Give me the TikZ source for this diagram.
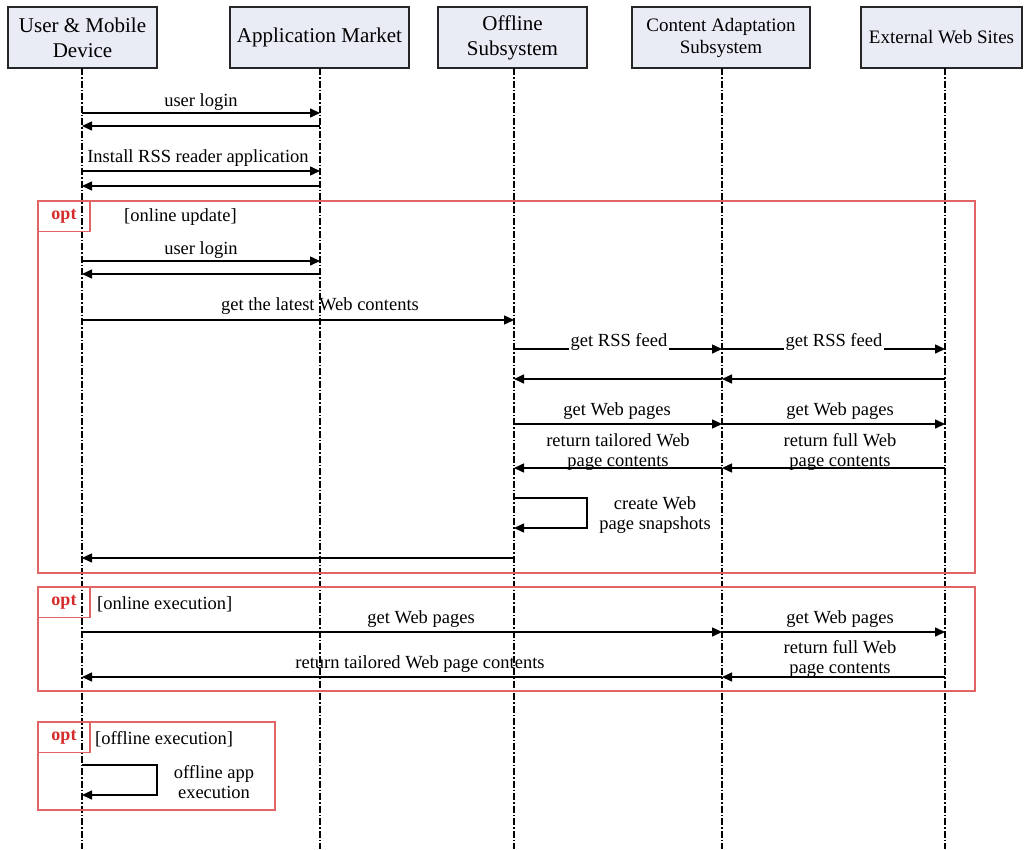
\documentclass[tikz,border=0pt]{standalone}
\usepackage{fontspec}
\setmainfont{Liberation Serif}
\usetikzlibrary{arrows.meta}
\definecolor{headfill}{HTML}{E9EBF5}
\definecolor{optred}{HTML}{D42A2A}
\definecolor{optframe}{HTML}{E26464}

\begin{document}
\begin{tikzpicture}[x=1pt,y=-1pt,
  head/.style={draw=black!85,line width=1.4pt,fill=headfill,align=center,inner sep=0pt,
               minimum height=61pt},
  bighead/.style={head,font=\fontsize{21}{25}\selectfont},
  smallhead/.style={head,font=\fontsize{19}{22}\selectfont},
  lifeline/.style={line width=1.1pt,dash pattern=on 7pt off 2pt on 1.5pt off 2pt},
  msg/.style={line width=1.5pt,-{Triangle[length=10pt,width=9pt]}},
  lbl/.style={font=\fontsize{18.5}{20}\selectfont,align=center,inner sep=1pt,yshift=-2pt},
  onlbl/.style={lbl,fill=white,inner sep=2pt},
  frame/.style={draw=optframe,line width=1.1pt},
  opttag/.style={draw=optframe,line width=1.1pt,minimum width=52pt,minimum height=31pt,
                 inner sep=0pt,text=optred,font=\fontsize{18}{20}\selectfont\bfseries},
  guard/.style={lbl,anchor=west},
]
\useasboundingbox (0,0) rectangle (1025,849);

% participants
\node[bighead,minimum width=149pt] (h1) at (82.5,37.5) {User \& Mobile\\Device};
\node[bighead,minimum width=179pt] (h2) at (319.5,37.5) {Application Market};
\node[bighead,minimum width=149pt] (h3) at (512.5,37.5) {Offline\\Subsystem};
\node[smallhead,minimum width=178pt] (h4) at (721,37.5) {Content Adaptation\\Subsystem};
\node[smallhead,minimum width=161pt] (h5) at (941.5,37.5) {External Web Sites};

% lifelines
\coordinate (L1) at (82,68);
\coordinate (L2) at (320,68);
\coordinate (L3) at (514,68);
\coordinate (L4) at (722,68);
\coordinate (L5) at (945,68);
\foreach \l in {L1,L2,L3,L4,L5}
  \draw[lifeline] (\l) -- (\l|-0,849);

% login and installation
\draw[msg] (L1|-0,113) -- (L2|-0,113);
\node[lbl] (m1) at (201,100) {user login};
\draw[msg] (L2|-0,126) -- (L1|-0,126);
\draw[msg] (L1|-0,171) -- (L2|-0,171);
\node[lbl] (m2) at (198,156) {Install RSS reader application};
\draw[msg] (L2|-0,186) -- (L1|-0,186);

% opt: online update
\draw[frame] (38,201) rectangle (975,573);
\node[opttag] (t1) at (64,216) {opt};
\node[guard] (g1) at (123,215) {[online update]};
\draw[msg] (L1|-0,261) -- (L2|-0,261);
\node[lbl] (m3) at (201,248) {user login};
\draw[msg] (L2|-0,274) -- (L1|-0,274);
\draw[msg] (L1|-0,320) -- (L3|-0,320);
\node[lbl] (m4) at (320,304) {get the latest Web contents};

\draw[msg] (L3|-0,349) -- (L4|-0,349);
\node[onlbl] (m5) at (619,340) {get RSS feed};
\draw[msg] (L4|-0,349) -- (L5|-0,349);
\node[onlbl] (m6) at (834,340) {get RSS feed};
\draw[msg] (L5|-0,379) -- (L4|-0,379);
\draw[msg] (L4|-0,379) -- (L3|-0,379);

\draw[msg] (L3|-0,424) -- (L4|-0,424);
\node[lbl] (m7) at (617,409) {get Web pages};
\draw[msg] (L4|-0,424) -- (L5|-0,424);
\node[lbl] (m8) at (840,409) {get Web pages};
\draw[msg] (L4|-0,468) -- (L3|-0,468);
\node[lbl] (m9) at (618,450) {return tailored Web\\page contents};
\draw[msg] (L5|-0,468) -- (L4|-0,468);
\node[lbl] (m10) at (840,450) {return full Web\\page contents};

\draw[msg] (L3|-0,498) -- (587,498) -- (587,528) -- (L3|-0,528);
\node[lbl] (m11) at (655,513) {create Web\\page snapshots};
\draw[msg] (L3|-0,558) -- (L1|-0,558);

% opt: online execution
\draw[frame] (38,587) rectangle (975,691);
\node[opttag] (t2) at (64,602) {opt};
\node[guard] (g2) at (96,602) {[online execution]};
\draw[msg] (L1|-0,632) -- (L4|-0,632);
\node[lbl] (m12) at (421,617) {get Web pages};
\draw[msg] (L4|-0,632) -- (L5|-0,632);
\node[lbl] (m13) at (840,617) {get Web pages};
\draw[msg] (L5|-0,677) -- (L4|-0,677);
\node[lbl] (m14) at (840,657) {return full Web\\page contents};
\draw[msg] (L4|-0,677) -- (L1|-0,677);
\node[lbl] (m15) at (420,662) {return tailored Web page contents};

% opt: offline execution
\draw[frame] (38,722) rectangle (275,810);
\node[opttag] (t3) at (64,737) {opt};
\node[guard] (g3) at (94,737) {[offline execution]};
\draw[msg] (L1|-0,765) -- (157,765) -- (157,795) -- (L1|-0,795);
\node[lbl] (m16) at (214,780) {offline app\\execution};
\end{tikzpicture}
\end{document}
